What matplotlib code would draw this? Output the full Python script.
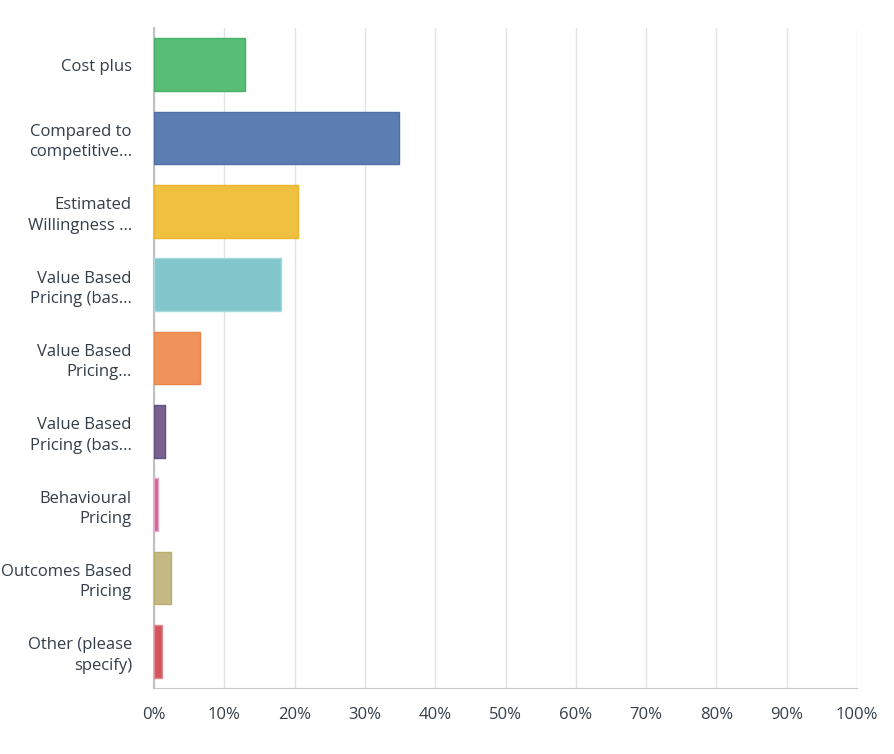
import matplotlib
matplotlib.use("Agg")
import matplotlib.pyplot as plt
import numpy as np

# answer choices, top to bottom
labels = ["Cost plus",
          "Compared to\ncompetitive...",
          "Estimated\nWillingness ...",
          "Value Based\nPricing (bas...",
          "Value Based\nPricing...",
          "Value Based\nPricing (bas...",
          "Behavioural\nPricing",
          "Outcomes Based\nPricing",
          "Other (please\nspecify)"]
# percent of respondents
values = [13.0, 34.8, 20.5, 18.0, 6.6, 1.6, 0.5, 2.4, 1.2]
colors = ["#57BD77", "#5B7DB1", "#F0C040", "#82C5CB", "#F0935B",
          "#7B6190", "#D0629A", "#C4B985", "#D1555F"]
edges = ["#4AAF68", "#4F70A5", "#EDB52E", "#A9D8DC", "#EA8449",
         "#6A4F82", "#E8A6C6", "#BBAE6A", "#E08A92"]
xticks = [0, 10, 20, 30, 40, 50, 60, 70, 80, 90, 100]

plt.rcParams['font.family'] = ['Open Sans', 'DejaVu Sans']

fig = plt.figure(figsize=(8.94, 7.54), dpi=100)
ax = fig.add_axes([154/894, 1-688/754, (857-154)/894, (688-28)/754])

ypos = np.arange(len(labels))
ax.barh(ypos, values, height=0.72, color=colors, edgecolor=edges, linewidth=1, zorder=3)

ax.set_ylim(len(labels) - 0.5, -0.5)
ax.set_xlim(0, 100)
ax.set_yticks(ypos)
ax.set_yticklabels(labels, fontsize=12, color="#333e48", linespacing=1.35)
ax.set_xticks(xticks)
ax.set_xticklabels([str(t) + "%" for t in xticks], fontsize=12, color="#333e48")
ax.tick_params(axis="y", length=0, pad=16)
ax.tick_params(axis="x", length=0, pad=14)

ax.grid(axis="x", color="#e3e3e3", linewidth=1, zorder=0)
for s in ["top", "right"]:
    ax.spines[s].set_visible(False)
ax.spines["left"].set_color("#c0c0c0")
ax.spines["bottom"].set_color("#c8c8c8")
ax.spines["left"].set_linewidth(1.5)

fig.savefig("out.png", dpi=100)
